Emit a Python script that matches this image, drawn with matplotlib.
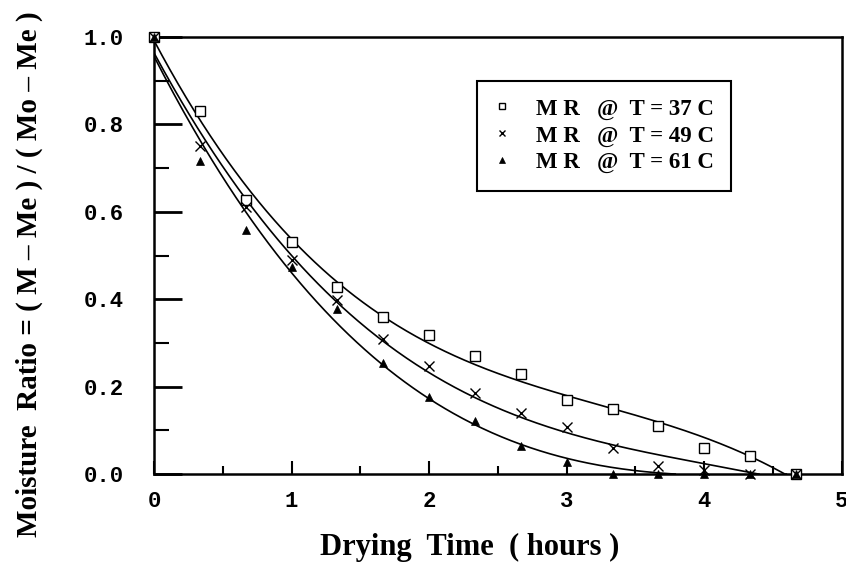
import numpy as np
import matplotlib
matplotlib.use('Agg')
from matplotlib import pyplot as plt
from matplotlib.ticker import MultipleLocator

# drying time, 20 min steps (hours)
time_h = [0.0, 1/3, 2/3, 1.0, 4/3, 5/3, 2.0, 7/3, 8/3, 3.0, 10/3, 11/3, 4.0, 13/3, 14/3]

mr_37 = [1.0, 0.83, 0.627, 0.53, 0.427, 0.359, 0.319, 0.27, 0.229, 0.169, 0.148, 0.11, 0.06, 0.042, 0.0]
mr_49 = [1.0, 0.75, 0.61, 0.49, 0.398, 0.308, 0.248, 0.186, 0.139, 0.108, 0.059, 0.019, 0.01, 0.0, 0.0]
mr_61 = [1.0, 0.717, 0.558, 0.474, 0.377, 0.255, 0.177, 0.122, 0.065, 0.028, 0.0, 0.0, 0.0, 0.0, 0.0]

labels = ['M R   @  T = 37 C', 'M R   @  T = 49 C', 'M R   @  T = 61 C']

SERIF = 'Liberation Serif'
MONO = 'Liberation Mono'


def fit_curve(t, mr, deg=3):
    # cubic fit, drawn until it reaches zero or bottoms out
    coef = np.polyfit(t, mr, deg)
    tt = np.linspace(0, max(t), 400)
    yy = np.polyval(coef, tt)
    dy = np.polyval(np.polyder(coef), tt)
    bad = np.where((yy <= 0) | (dy >= 0))[0]
    if len(bad):
        tt, yy = tt[:bad[0] + 1], yy[:bad[0] + 1]
    return tt, np.clip(yy, 0, None)


fig = plt.figure(figsize=(8.46, 5.66), dpi=100)
ax = fig.add_axes([0.182, 0.1625, 0.813, 0.772])

styles = [
    dict(marker='s', mfc='white', mec='black', ms=6.5, mew=1.0),
    dict(marker='x', color='black', ms=6.5, mew=1.0),
    dict(marker='^', color='black', ms=6, mew=0.5),
]

for mr, lab, st in zip([mr_37, mr_49, mr_61], labels, styles):
    tt, yy = fit_curve(time_h, mr)
    ax.plot(tt, yy, color='black', lw=1.2, zorder=2)
    ax.plot(time_h, mr, linestyle='none', label=lab, zorder=3, clip_on=False, **st)

ax.set_xlim(0, 5)
ax.set_ylim(0, 1.0)
ax.xaxis.set_major_locator(MultipleLocator(1))
ax.xaxis.set_minor_locator(MultipleLocator(0.5))
ax.yaxis.set_major_locator(MultipleLocator(0.2))
ax.yaxis.set_minor_locator(MultipleLocator(0.1))
ax.yaxis.set_major_formatter(lambda v, p: f'{v:.1f}')

ax.tick_params(axis='x', which='major', direction='in', length=9.5, width=1.5, pad=12)
ax.tick_params(axis='x', which='minor', direction='in', length=6, width=1.5)
ax.tick_params(axis='y', which='major', direction='in', length=20, width=2, pad=22)
ax.tick_params(axis='y', which='minor', direction='in', length=11, width=1.5)

for spine in ax.spines.values():
    spine.set_linewidth(1.8)

for tl in ax.get_xticklabels() + ax.get_yticklabels():
    tl.set_fontfamily(MONO)
    tl.set_fontweight('bold')
    tl.set_fontsize(16)

ax.set_xlabel('Drying  Time  ( hours )', fontfamily=SERIF, fontweight='bold', fontsize=22)
ax.xaxis.set_label_coords(0.459, -0.135)
ax.set_ylabel('Moisture  Ratio = ( M \u2013 Me ) / ( Mo \u2013 Me )', fontfamily=SERIF,
              fontweight='bold', fontsize=21)
ax.yaxis.set_label_coords(-0.161, 0.458)

leg = ax.legend(loc='upper left', bbox_to_anchor=(0.4695, 0.899), borderaxespad=0,
                frameon=True, fancybox=False, edgecolor='black', framealpha=1,
                handlelength=0.72, handletextpad=1.1, borderpad=0.75, labelspacing=0.25,
                markerscale=0.75, prop=dict(family=SERIF, weight='bold', size=16.5))
leg.get_frame().set_linewidth(1.5)

fig.savefig('out.png', dpi=100)
